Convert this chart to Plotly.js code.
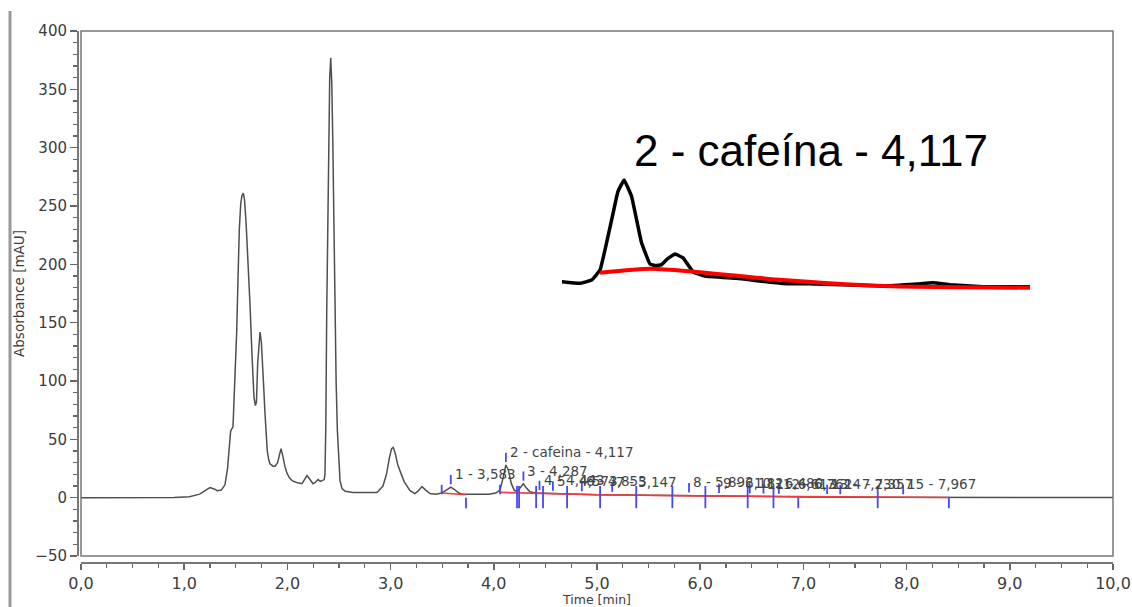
<!DOCTYPE html>
<html>
<head>
<meta charset="utf-8">
<script src="https://cdn.plot.ly/plotly-3.0.1.min.js"></script>
<style>html,body{margin:0;padding:0;background:#fff;}#chart{width:1132px;height:607px;}</style>
</head>
<body>
<div id="chart"></div>
<script>
// ---- Main chromatogram (time in min, absorbance in mAU) ----
const time = [0.00,0.50,0.90,1.05,1.15,1.21,1.25,1.29,1.32,1.36,1.395,1.42,1.435,1.45,1.473,1.49,1.509,1.522,1.534,1.548,1.56,1.573,1.585,1.60,1.621,1.638,1.654,1.666,1.676,1.69,1.70,1.712,1.724,1.735,1.748,1.761,1.772,1.783,1.795,1.805,1.82,1.831,1.86,1.88,1.905,1.925,1.938,1.955,1.975,1.996,2.02,2.045,2.09,2.141,2.165,2.19,2.215,2.248,2.27,2.297,2.32,2.345,2.357,2.364,2.372,2.381,2.392,2.400,2.410,2.420,2.430,2.440,2.450,2.461,2.472,2.484,2.497,2.510,2.529,2.56,2.636,2.75,2.868,2.926,2.96,2.99,3.010,3.026,3.045,3.07,3.091,3.13,3.188,3.236,3.27,3.304,3.34,3.382,3.44,3.495,3.54,3.583,3.62,3.66,3.70,3.8,3.95,4.02,4.06,4.09,4.117,4.14,4.17,4.20,4.235,4.26,4.287,4.31,4.35,4.41,4.6,5.0,5.5,6.0,6.5,7.0,7.5,8.0,8.25,8.4,9.0,10.0];
const absorbance = [0,0,0.2,0.8,3,6.5,8.6,7.5,6,6.5,11,25,45,57,61,95,143,190,230,252,259,261,255,235,201,165,129,103,86,79,82,115,135,142,133,115,92,72,52,40,32,29,27,27,30,39,42,36,27,21,17,14.6,13,12,15,19,16,12,13,15.5,14,14.7,15.5,20,60,158,250,316,360,377,355,305,240,158,100,58,28,14.6,7.7,5.5,4.5,4.3,4.5,10,20,35,42,43,38,28,23,14,6,3.5,6,9.5,6.5,3.5,3,4,6.5,9,7,4,3,3,3,4,6.5,17,28,24,12,6,6,9,12,9,5,4,3.5,2.5,2,1.4,1,0.6,0.4,0.3,0.5,0.2,0.1,0.1];

// ---- Integration baseline (red) ----
const baseTime = [3.495,3.73,null,4.06,4.5,5.0,6.0,7.0,8.41];
const baseAbs  = [4,2.5,null,4.5,3.5,2.5,1.5,0.7,0.2];

// ---- Peaks ----
const peakNum    = [1,2,3,4,5,6,7,8,9,10,11,12,13,14,15];
const peakName   = ["","cafeina","","","","","","","","","","","","",""];
const peakRT     = [3.583,4.117,4.287,4.443,4.573,4.853,5.147,5.892,6.182,6.480,6.613,6.762,7.230,7.357,7.967];
const peakHeight = [9,28,12,4,3.5,3,2.5,2,1.5,1.2,1,0.8,0.6,0.5,0.4];

// ---- Peak delimiter marks ----
const delimUp   = [3.495,4.06];
const delimDown = [3.73,6.95,8.41];
const delimBoth = [4.225,4.245,4.41,4.477,4.71,5.03,5.38,5.73,6.05,6.46,6.71,7.72];

// ---- Inset (zoom of the cafeína region) ----
const insetTime = [3.917,3.976,4.013,4.040,4.077,4.097,4.117,4.141,4.173,4.200,4.218,4.236,4.255,4.280,4.306,4.338,4.376,4.478,4.626,4.734,4.947,5.055,5.107,5.162,5.267,5.418];
const insetAbs  = [1.63,1.22,2.07,4.66,17.6,24.9,28.0,23.7,11.7,6.2,5.8,6.0,7.5,8.8,7.8,4.2,3.1,2.5,1.2,1.04,0.52,1.04,1.37,0.85,0.34,0.34];
const insetBaseTime = [4.040,4.200,4.306,4.626,4.947,5.418];
const insetBaseAbs  = [3.96,5.0,4.48,2.07,0.52,0.08];
const insetTitle = "2 - cafeína - 4,117";

function fmt(v){ return v.toFixed(3).replace('.', ','); }
function segs(xs, lo, hi){
  const x=[], y=[];
  xs.forEach((t,i)=>{ x.push(t,t,null); y.push(lo(i),hi(i),null); });
  return {x,y};
}

const blue = 'rgb(70,70,250)';
const apex = segs(peakRT, i=>peakHeight[i]+2.5, i=>peakHeight[i]+10.5);
const dUp = segs(delimUp, ()=>3, ()=>11);
const dDown = segs(delimDown, ()=>-9, ()=>0);
const dBoth = segs(delimBoth, ()=>-9, ()=>10);

const traces = [
  {x: time, y: absorbance, type:'scatter', mode:'lines', line:{color:'#4f4f4f', width:1.5}, xaxis:'x', yaxis:'y', hoverinfo:'skip'},
  {x: baseTime, y: baseAbs, type:'scatter', mode:'lines', line:{color:'rgb(240,60,60)', width:1.6}, xaxis:'x', yaxis:'y', connectgaps:false, hoverinfo:'skip'},
  {x: apex.x, y: apex.y, type:'scatter', mode:'lines', line:{color:blue, width:1.8}, connectgaps:false, hoverinfo:'skip'},
  {x: dUp.x, y: dUp.y, type:'scatter', mode:'lines', line:{color:blue, width:1.8}, connectgaps:false, hoverinfo:'skip'},
  {x: dDown.x, y: dDown.y, type:'scatter', mode:'lines', line:{color:blue, width:1.8}, connectgaps:false, hoverinfo:'skip'},
  {x: dBoth.x, y: dBoth.y, type:'scatter', mode:'lines', line:{color:blue, width:1.8}, connectgaps:false, hoverinfo:'skip'},
  {x: insetTime, y: insetAbs, type:'scatter', mode:'lines', line:{color:'#000', width:3.5, shape:'spline', smoothing:0.25}, xaxis:'x2', yaxis:'y2', hoverinfo:'skip'},
  {x: insetBaseTime, y: insetBaseAbs, type:'scatter', mode:'lines', line:{color:'#ff0000', width:4, shape:'spline', smoothing:0.6}, xaxis:'x2', yaxis:'y2', hoverinfo:'skip'}
];

const annotations = peakNum.map((n,i)=>({
  xref:'x', yref:'y', x: peakRT[i], y: peakHeight[i],
  text: n + ' - ' + (peakName[i] ? peakName[i] + ' - ' : '') + fmt(peakRT[i]),
  showarrow:false, xanchor:'left', yanchor:'bottom', xshift:2, yshift:3,
  font:{family:'DejaVu Sans', size:13.5, color:'#444'}
}));
annotations.push({
  xref:'paper', yref:'paper', x:811/1132, y:(607-150)/607, text: insetTitle, showarrow:false,
  xanchor:'center', yanchor:'middle', font:{family:'Liberation Sans, Arial', size:44, color:'#000'}
});

const xd = [81/1132, 1113/1132];
const yd = [(607-556)/607, (607-31)/607];

const layout = {
  width:1132, height:607,
  margin:{l:0, r:0, t:0, b:0},
  paper_bgcolor:'#fff', plot_bgcolor:'rgba(0,0,0,0)',
  showlegend:false,
  separators:', ',
  xaxis:{
    domain: xd, range:[0,10], anchor:'free', position:(607-562)/607,
    showline:true, linecolor:'#777', linewidth:1.5,
    ticks:'outside', ticklen:6, tickwidth:1.5, tickcolor:'#666',
    tick0:0, dtick:1, tickformat:'.1f', showgrid:false, zeroline:false,
    minor:{dtick:0.25, ticks:'outside', ticklen:4, tickwidth:1.2, tickcolor:'#666', showgrid:false},
    tickfont:{family:'DejaVu Sans', size:16, color:'#3c3c3c'},
    title:{text:'Time [min]', font:{family:'DejaVu Sans', size:12.5, color:'#3c3c3c'}, standoff:1}
  },
  yaxis:{
    domain: yd, range:[-50,400], anchor:'free', position:77/1132,
    showline:true, linecolor:'#777', linewidth:1.5,
    ticks:'outside', ticklen:7, tickwidth:1.5, tickcolor:'#666',
    tick0:0, dtick:50, showgrid:false, zeroline:false,
    minor:{dtick:10, ticks:'outside', ticklen:4, tickwidth:1.2, tickcolor:'#666', showgrid:false},
    tickfont:{family:'DejaVu Sans', size:15, color:'#3c3c3c'},
    title:{text:'Absorbance [mAU]', font:{family:'DejaVu Sans', size:13.5, color:'#3c3c3c'}, standoff:6}
  },
  xaxis2:{domain:[562/1132, 1030/1132], range:[3.918,5.418], anchor:'y2', visible:false, fixedrange:true},
  yaxis2:{domain:[(607-299.6)/607, (607-168.3)/607], range:[-3,31], anchor:'x2', visible:false, fixedrange:true},
  shapes:[
    {type:'rect', xref:'paper', yref:'paper', x0:xd[0], x1:xd[1], y0:yd[0], y1:yd[1], line:{color:'#777', width:1.5}, layer:'above'},
    {type:'line', xref:'paper', yref:'paper', x0:10/1132, x1:10/1132, y0:0, y1:(607-11)/607, line:{color:'#999', width:3}}
  ],
  annotations: annotations
};

Plotly.newPlot('chart', traces, layout, {staticPlot:true, displayModeBar:false});
</script>
</body>
</html>
